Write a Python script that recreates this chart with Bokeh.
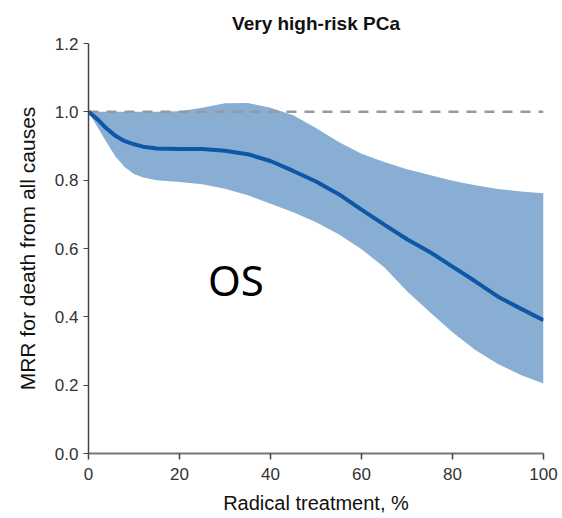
from bokeh.plotting import figure
from bokeh.models import Range1d, Label, FixedTicker, CustomJSTickFormatter
from bokeh.embed import file_html
from bokeh.resources import INLINE

# Radical treatment share (%) and the modelled MRR curve with its confidence band
treat_pct = [0, 2, 4, 6, 8, 10, 12, 15, 20, 25, 30, 35, 40, 45, 50,
             55, 60, 65, 70, 75, 80, 85, 90, 95, 100]
mrr_mean = [1.0, 0.978, 0.951, 0.929, 0.914, 0.905, 0.898, 0.893, 0.891, 0.891,
            0.886, 0.876, 0.856, 0.827, 0.796, 0.759, 0.714, 0.670, 0.627,
            0.590, 0.547, 0.504, 0.459, 0.424, 0.390]
mrr_upper = [1.0, 1.0, 1.0, 1.0, 1.0, 1.0, 1.0, 1.0, 1.002, 1.012, 1.025,
             1.026, 1.012, 0.990, 0.953, 0.912, 0.877, 0.853, 0.832, 0.815,
             0.798, 0.785, 0.774, 0.767, 0.762]
mrr_lower = [1.0, 0.955, 0.910, 0.868, 0.838, 0.818, 0.808, 0.800, 0.795,
             0.788, 0.775, 0.756, 0.731, 0.706, 0.677, 0.642, 0.598, 0.545,
             0.475, 0.414, 0.355, 0.303, 0.262, 0.230, 0.205]

reference_level = 1.0
x_ticks = [0, 20, 40, 60, 80, 100]
y_ticks = [0.0, 0.2, 0.4, 0.6, 0.8, 1.0, 1.2]

FONT = "Liberation Sans"

p = figure(width=562, height=518,
           x_range=Range1d(0, 100), y_range=Range1d(0, 1.2),
           output_backend="svg", toolbar_location=None,
           min_border_left=88, min_border_right=19,
           min_border_top=43, min_border_bottom=65)

p.title.text = "Very high-risk PCa"
p.title.align = "center"
p.title.text_font = FONT
p.title.text_font_style = "bold"
p.title.text_font_size = "19px"
p.title.text_color = "#111111"
p.title.standoff = 19

p.outline_line_color = None
p.xgrid.visible = False
p.ygrid.visible = False
p.background_fill_color = "white"
p.border_fill_color = "white"

# confidence band
p.varea(x=treat_pct, y1=mrr_lower, y2=mrr_upper, fill_color="#88aed4", fill_alpha=1.0)

# no-effect reference line
p.line(x=[treat_pct[0], treat_pct[-1]], y=[reference_level, reference_level],
       line_color="#999999", line_width=2.5, line_dash="10 8")

# fitted curve
p.line(x=treat_pct, y=mrr_mean, line_color="#0d58a6", line_width=4)

# axes
p.xaxis.ticker = FixedTicker(ticks=x_ticks)
p.yaxis.ticker = FixedTicker(ticks=y_ticks)
p.yaxis.formatter = CustomJSTickFormatter(code="return tick.toFixed(1);")

for ax in (p.xaxis, p.yaxis):
    ax.minor_tick_line_color = None
    ax.major_tick_in = 0
    ax.major_label_text_font = FONT
    ax.major_label_text_font_size = "17px"
    ax.major_label_text_color = "#333333"
    ax.axis_label_text_font = FONT
    ax.axis_label_text_font_style = "normal"
    ax.axis_label_text_color = "#111111"

p.xaxis.axis_line_color = "#777777"
p.xaxis.axis_line_width = 2
p.xaxis.major_tick_line_color = "#444444"
p.xaxis.major_tick_line_width = 1.5
p.xaxis.major_tick_out = 6
p.xaxis.major_label_standoff = 8
p.xaxis.axis_label = "Radical treatment, %"
p.xaxis.axis_label_text_font_size = "20px"
p.xaxis.axis_label_standoff = 9

p.yaxis.axis_line_color = "#444444"
p.yaxis.axis_line_width = 1.5
p.yaxis.major_tick_line_color = "#444444"
p.yaxis.major_tick_line_width = 1.2
p.yaxis.major_tick_out = 5
p.yaxis.major_label_standoff = 5
p.yaxis.axis_label = "MRR for death from all causes"
p.yaxis.axis_label_text_font_size = "21px"
p.yaxis.axis_label_standoff = 13

# outcome tag
p.add_layout(Label(x=32.4, y=0.51, text="OS", text_font="Noto Sans",
                   text_font_size="42px", text_align="center",
                   text_baseline="alphabetic", text_color="#000000"))

open("out.html", "w").write(file_html(p, INLINE))
